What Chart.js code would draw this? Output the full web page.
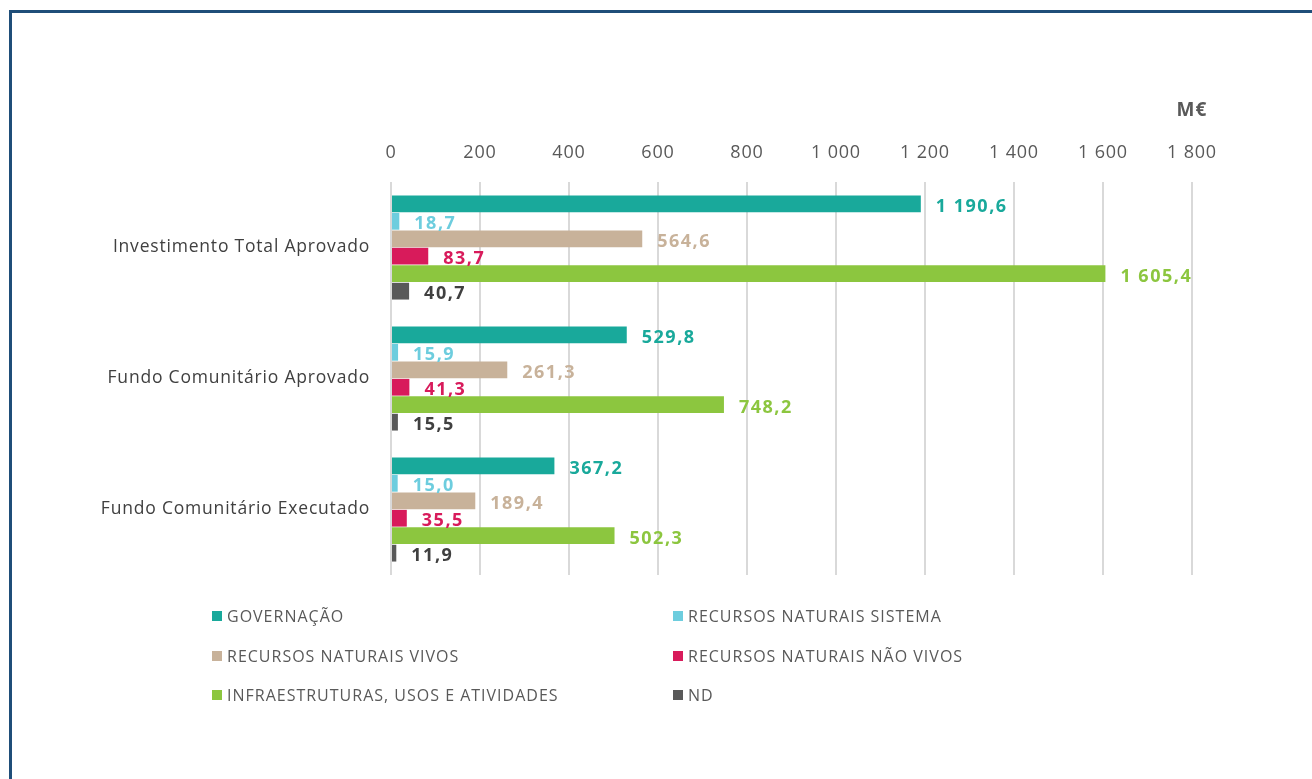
<!DOCTYPE html>
<html><head><meta charset="utf-8">
<script src="https://cdn.jsdelivr.net/npm/chart.js@4.4.1/dist/chart.umd.min.js"></script>
<style>
html,body{margin:0;padding:0;width:1312px;height:779px;overflow:hidden;background:#fff;}
#frame{position:absolute;left:9px;top:10px;width:1400px;height:900px;border:3px solid #1F4E79;box-sizing:border-box;}
#wrap{position:absolute;left:0;top:0;width:1312px;height:779px;}
</style></head><body>
<div id="frame"></div>
<div id="wrap"><canvas id="c"></canvas></div>
<script>
const categories = ['Investimento Total Aprovado', 'Fundo Comunitário Aprovado', 'Fundo Comunitário Executado'];
const seriesNames = ['GOVERNAÇÃO', 'RECURSOS NATURAIS SISTEMA', 'RECURSOS NATURAIS VIVOS', 'RECURSOS NATURAIS NÃO VIVOS', 'INFRAESTRUTURAS, USOS E ATIVIDADES', 'ND'];
const governacao = [1190.6, 529.8, 367.2];
const recSistema = [18.7, 15.9, 15.0];
const recVivos = [564.6, 261.3, 189.4];
const recNaoVivos = [83.7, 41.3, 35.5];
const infraestruturas = [1605.4, 748.2, 502.3];
const nd = [40.7, 15.5, 11.9];
const xTicks = [0, 200, 400, 600, 800, 1000, 1200, 1400, 1600, 1800];
const unitLabel = 'M€';

const colors = ['#19A99B', '#6DCDDE', '#C8B29A', '#D81B5B', '#8CC63F', '#595959'];
const labelColors = ['#19A99B', '#6DCDDE', '#C8B29A', '#D81B5B', '#8CC63F', '#404040'];
const seriesValues = [governacao, recSistema, recVivos, recNaoVivos, infraestruturas, nd];

function fmtNum(v, dec) {
  let s = dec ? v.toFixed(dec) : String(Math.round(v));
  let [ip, fp] = s.split('.');
  ip = ip.replace(/\B(?=(\d{3})+(?!\d))/g, ' ');
  return fp !== undefined ? ip + ',' + fp : ip;
}

const FONT = "'Open Sans', Lato, sans-serif";

const spacing = {
  id: 'spacing',
  beforeDraw(chart) { chart.ctx.letterSpacing = '0.8px'; }
};

const valueLabels = {
  id: 'valueLabels',
  afterDatasetsDraw(chart) {
    const ctx = chart.ctx;
    ctx.save();
    ctx.letterSpacing = '1.5px';
    ctx.font = 'bold 18px ' + FONT;
    ctx.textAlign = 'left';
    ctx.textBaseline = 'middle';
    chart.data.datasets.forEach((ds, i) => {
      const meta = chart.getDatasetMeta(i);
      meta.data.forEach((el, j) => {
        ctx.fillStyle = labelColors[i];
        ctx.fillText(fmtNum(ds.data[j], 1), el.x + 15, el.y + 3);
      });
    });
    ctx.restore();
  }
};

const customLegend = {
  id: 'customLegend',
  afterDraw(chart) {
    const ctx = chart.ctx;
    ctx.save();
    ctx.letterSpacing = '1px';
    ctx.font = '16px ' + FONT;
    ctx.textBaseline = 'middle';
    ctx.textAlign = 'left';
    const colX = [212, 673];
    const rowY = [616, 656, 695];
    chart.data.datasets.forEach((ds, i) => {
      const x = colX[i % 2], y = rowY[Math.floor(i / 2)];
      ctx.fillStyle = ds.backgroundColor;
      ctx.fillRect(x, y - 5, 10, 10);
      ctx.fillStyle = '#595959';
      ctx.fillText(ds.label, x + 15, y + 1);
    });
    const xs = chart.scales.x;
    ctx.font = 'bold 19px ' + FONT;
    ctx.textAlign = 'center';
    ctx.fillStyle = '#595959';
    ctx.fillText(unitLabel, xs.getPixelForValue(xTicks[xTicks.length - 1]), 111);
    ctx.restore();
  }
};

new Chart(document.getElementById('c'), {
  type: 'bar',
  data: {
    labels: categories,
    datasets: seriesNames.map((n, i) => ({
      label: n,
      data: seriesValues[i],
      backgroundColor: colors[i],
      borderWidth: 0,
      categoryPercentage: 0.8,
      barPercentage: 0.96
    }))
  },
  options: {
    indexAxis: 'y',
    responsive: true,
    maintainAspectRatio: false,
    animation: false,
    layout: { padding: { left: 0, right: 120, top: 0, bottom: 204 } },
    plugins: { legend: { display: false }, tooltip: { enabled: false } },
    scales: {
      x: {
        position: 'top',
        min: 0, max: 1800,
        afterFit(s) { s.height = 182; },
        afterBuildTicks(s) { s.ticks = xTicks.map(v => ({ value: v })); },
        ticks: {
          padding: 18,
          color: '#595959',
          font: { family: FONT, size: 18 },
          callback: v => fmtNum(v, 0)
        },
        grid: { color: '#D9D9D9', lineWidth: 2, drawTicks: false },
        border: { display: false }
      },
      y: {
        afterFit(s) { s.width = 391; },
        ticks: {
          padding: 21,
          color: '#404040',
          font: { family: FONT, size: 17.5 }
        },
        grid: { display: false, drawTicks: false },
        border: { display: false }
      }
    }
  },
  plugins: [spacing, valueLabels, customLegend]
});
</script>
</body></html>
